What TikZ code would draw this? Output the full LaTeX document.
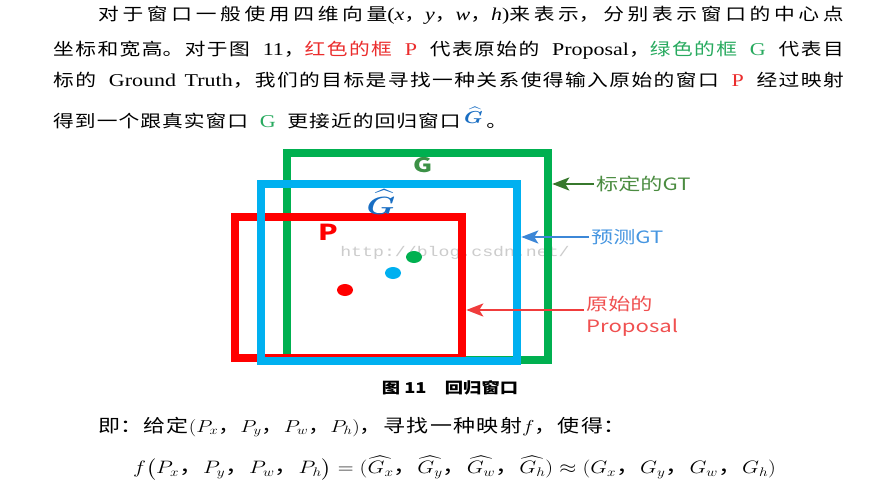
\documentclass[tikz,border=0pt]{standalone}
\usepackage{fontspec}
\usepackage{amsmath}
\setmainfont{Noto Sans CJK SC}
\newfontfamily\lat[Scale=1.06]{Liberation Serif}
\newfontfamily\mono{Liberation Mono}
\usetikzlibrary{arrows.meta}

\XeTeXlinebreaklocale "zh"
\XeTeXlinebreakskip=0pt plus 1pt

\definecolor{boxred}{RGB}{255,0,0}
\definecolor{boxgreen}{RGB}{0,176,80}
\definecolor{boxblue}{RGB}{0,176,240}
\definecolor{txtred}{RGB}{235,45,45}
\definecolor{txtgreen}{RGB}{40,170,95}
\definecolor{hatblue}{RGB}{25,110,195}
\definecolor{gtag}{RGB}{60,145,70}
\definecolor{lblgreen}{RGB}{75,140,65}
\definecolor{arrgreen}{RGB}{55,120,45}
\definecolor{lblblue}{RGB}{70,150,225}
\definecolor{arrblue}{RGB}{60,135,215}
\definecolor{lblred}{RGB}{240,80,80}
\definecolor{arrred}{RGB}{240,60,60}

% the scan is stretched sideways
\newcommand\stretchx[1]{\scalebox{1.22}[1]{#1}}
\newcommand\figstretchx[1]{\scalebox{1.3}[1]{#1}}
\newcommand\latgap{\hskip 7pt plus 3pt\relax}
\newcommand\mvar[1]{{\lat\itshape #1}}
\newcommand\fullline[2]{\parbox{#1}{\parindent=0pt\parfillskip=0pt\tolerance=10000\hbadness=10000 #2}}

\begin{document}
\begin{tikzpicture}[x=1pt, y=-1pt,
    txt/.style = {inner sep=0pt, font=\fontsize{17}{20}\selectfont},
    win/.style = {draw, line width=8.5pt, inner sep=0pt},
    lbl/.style = {inner sep=2pt, anchor=west, font=\fontsize{17}{22}\selectfont},
    ptr/.style = {-{Stealth[length=17pt, width=13pt, inset=4pt]}, line width=2.5pt}
  ]
  \fill[white] (0,0) rectangle (893,503);
  \useasboundingbox (0,0) rectangle (893,503);

  % paragraph above the figure
  \node[txt, anchor=west] (l1) at (98,15) {\stretchx{\fullline{611pt}{对于窗口一般使用四维向量{\lat(}\mvar{x}，\mvar{y}，\mvar{w}，\mvar{h}{\lat)}来表示，分别表示窗口的中心点}}};
  \node[txt, anchor=west] (l2) at (53,50) {\stretchx{\fullline{648pt}{坐标和宽高。对于图\latgap{\lat 11}，\textcolor{txtred}{红色的框\latgap{\lat P}}\latgap 代表原始的\latgap{\lat Proposal}，\textcolor{txtgreen}{绿色的框\latgap{\lat G}}\latgap 代表目}}};
  \node[txt, anchor=west] (l3) at (53,80) {\stretchx{\fullline{648pt}{标的\latgap{\lat Ground Truth}，我们的目标是寻找一种关系使得输入原始的窗口\latgap\textcolor{txtred}{\lat P}\latgap 经过映射}}};
  \node[txt, anchor=west] (l4) at (53,118) {\stretchx{\fullline{372pt}{得到一个跟真实窗口\latgap\textcolor{txtgreen}{\lat G}\latgap 更接近的回归窗口\,\raisebox{4pt}{\textcolor{hatblue}{$\boldsymbol{\widehat{G}}$}}\,。}}};

  % figure 11
  \node[text=black!20, font=\mono\fontsize{14}{16}\selectfont] (mark) at (455,253) {\figstretchx{http://blog.csdn.net/}};

  \node[win, draw=boxgreen, minimum width=261pt, minimum height=207pt] (gtwin) at (417.5,256.5) {};
  \node[win, draw=boxred, minimum width=227pt, minimum height=141pt] (propwin) at (348.5,287.5) {};
  \node[win, draw=boxblue, minimum width=256pt, minimum height=177pt] (predwin) at (389,272.5) {};

  \node[text=gtag, font=\bfseries\fontsize{20}{22}\selectfont] (gtag) at (423,165) {\figstretchx{G}};
  \node[text=hatblue, font=\fontsize{23}{25}\selectfont, inner sep=1pt] (predtag) at (381,202) {\figstretchx{$\boldsymbol{\widehat{G}}$}};
  \node[text=boxred, font=\bfseries\fontsize{22}{24}\selectfont] (proptag) at (328,232) {\figstretchx{P}};

  \fill[boxgreen] (414,257) ellipse [x radius=8, y radius=6];
  \fill[boxblue] (393,273) ellipse [x radius=8, y radius=6];
  \fill[boxred] (345,290) ellipse [x radius=8, y radius=6];

  \node[lbl, text=lblgreen] (gtlbl) at (594,184) {\figstretchx{标定的GT}};
  \node[lbl, text=lblblue] (predlbl) at (589,237) {\figstretchx{预测GT}};
  \node[lbl, text=lblred, align=left] (proplbl) at (584,316) {\figstretchx{原始的}\\\figstretchx{Proposal}};

  \draw[ptr, arrgreen] (gtlbl.west) -- (gtlbl.west -| gtwin.east);
  \draw[ptr, arrblue] (predlbl.west) -- (predlbl.west -| predwin.east);
  \draw[ptr, arrred] ([yshift=6pt]proplbl.west) -- ([yshift=6pt]proplbl.west -| propwin.east);

  \node[font=\bfseries\fontsize{15}{18}\selectfont] (cap) at (450,388) {\stretchx{图 11\quad 回归窗口}};

  % text below the figure
  \node[txt, anchor=west, font=\fontsize{18}{21}\selectfont] (given) at (98,427) {\stretchx{\fullline{432pt}{即：给定$(P_x$，$P_y$，$P_w$，$P_h)$，寻找一种映射$f$，使得：}}};
  \node[anchor=west, inner sep=0pt, font=\fontsize{18.8}{22}\selectfont] (eq) at (133,468)
    {\scalebox{1.27}[1.04]{$f\bigl(P_x\text{，}P_y\text{，}P_w\text{，}P_h\bigr)=(\widehat{G_x}\text{，}\widehat{G_y}\text{，}\widehat{G_w}\text{，}\widehat{G_h})\approx(G_x\text{，}G_y\text{，}G_w\text{，}G_h)$}};
\end{tikzpicture}
\end{document}
